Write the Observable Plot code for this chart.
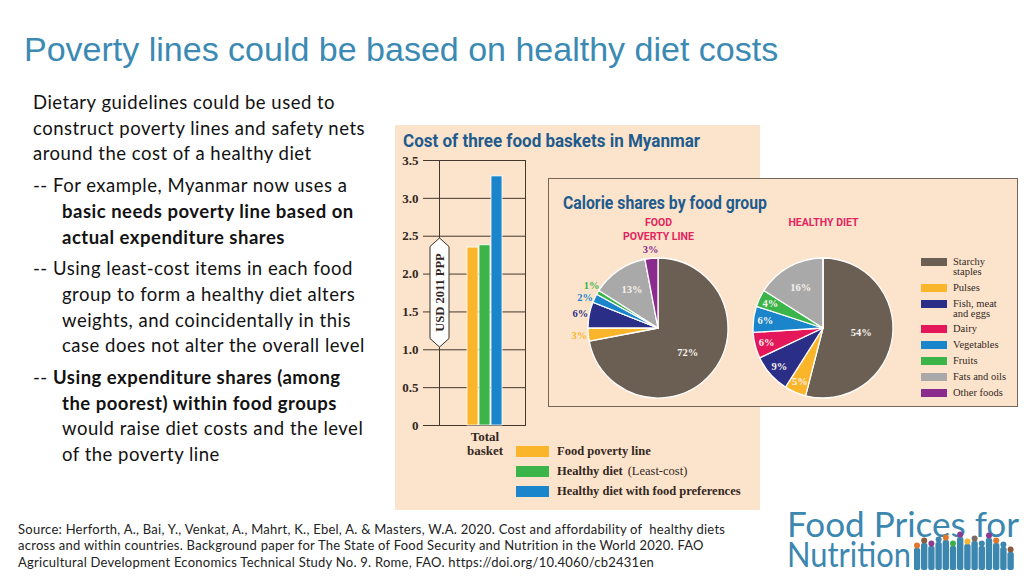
<!DOCTYPE html>
<html>
<head>
<meta charset="utf-8">
<script src="https://cdn.jsdelivr.net/npm/d3@7"></script>
<script src="https://cdn.jsdelivr.net/npm/@observablehq/plot@0.6"></script>
<style>
html, body { margin:0; padding:0; background:#fff; }
#slide { position:relative; width:1024px; height:576px; overflow:hidden; background:#fff; }
.abs { position:absolute; white-space:nowrap; }
#title { left:24px; top:32px; font:34px/1 "Liberation Sans", Arial, sans-serif; color:#3b8ab3; }
#bullets { left:33px; top:90px; font-family:Lato, sans-serif; font-size:18.5px; letter-spacing:0.5px; line-height:25.7px; color:#121212; }
#bullets p { margin:0 0 6px 0; }
#bullets p.h { padding-left:29px; text-indent:-29px; }
#figbg { left:395px; top:125px; width:365px; height:385px; background:#fce4cc; }
#panel { left:548px; top:178px; width:470px; height:229px; background:#fce4cc; border:1px solid #75665a; box-sizing:border-box; }
.ctitle { font-family: Roboto, sans-serif; font-weight:700; font-size:18px; line-height:1; color:#1f5b8c; transform-origin:0 50%; }
.serif { font-family:"Liberation Serif", "Times New Roman", serif; color:#33271e; }
#source { left:18px; top:521px; font-family:Lato, sans-serif; font-size:13px; letter-spacing:0.25px; line-height:16.4px; color:#222; }
.logo { font-family:Lato, sans-serif; font-weight:400; font-size:35px; line-height:30px; color:#3c87b0; transform-origin:0 50%; }
.leg { display:flex; align-items:center; }
.sw { display:inline-block; }
</style>
</head>
<body>
<div id="slide">
  <div id="title" class="abs">Poverty lines could be based on healthy diet costs</div>
  <div id="bullets" class="abs">
    <p>Dietary guidelines could be used to<br>construct poverty lines and safety nets<br>around the cost of a healthy diet</p>
    <p class="h">-- For example, Myanmar now uses a<br><b>basic needs poverty line based on<br>actual expenditure shares</b></p>
    <p class="h">-- Using least-cost items in each food<br>group to form a healthy diet alters<br>weights, and coincidentally in this<br>case does not alter the overall level</p>
    <p class="h">-- <b>Using expenditure shares (among<br>the poorest) within food groups</b><br>would raise diet costs and the level<br>of the poverty line</p>
  </div>
  <div id="figbg" class="abs"></div>
  <div id="panel" class="abs"></div>
  <div class="abs ctitle fit" data-w="297" style="left:403px;top:132px;">Cost of three food baskets in Myanmar</div>
  <div class="abs ctitle fit" data-w="204" style="left:563px;top:194px;">Calorie shares by food group</div>
  <div id="barHolder" class="abs" style="left:395px;top:150px;"></div>
  <div id="pieHolder" class="abs" style="left:548px;top:178px;"></div>
  <svg class="abs" style="left:429px;top:237px;" width="21" height="112">
    <polygon points="10.5,1 20,9.5 20,101.5 10.5,110 1,101.5 1,9.5" fill="#fff" stroke="#3a2e25" stroke-width="1"/>
    <text x="10.5" y="55.5" transform="rotate(-90 10.5 55.5)" text-anchor="middle" dominant-baseline="central"
      font-family="Liberation Serif, serif" font-weight="bold" font-size="12.5" fill="#33271e">USD 2011 PPP</text>
  </svg>
  <div class="abs serif" style="left:455px;top:430px;width:60px;text-align:center;font-weight:bold;font-size:13px;line-height:14px;">Total<br>basket</div>
  <div id="barLegend" class="abs serif" style="left:516px;top:441px;font-weight:bold;font-size:12.5px;"></div>
  <div id="pieLegend" class="abs serif" style="left:921px;top:257px;font-size:10.5px;line-height:10px;"></div>
  <div id="source" class="abs">Source: Herforth, A., Bai, Y., Venkat, A., Mahrt, K., Ebel, A. &amp; Masters, W.A. 2020. Cost and affordability of &nbsp;healthy diets<br>across and within countries. Background paper for The State of Food Security and Nutrition in the World 2020. FAO<br>Agricultural Development Economics Technical Study No. 9. Rome, FAO. https://doi.org/10.4060/cb2431en</div>
  <div class="abs logo fit" data-w="232" style="left:787px;top:508px;">Food Prices for</div>
  <div class="abs logo fit" data-w="124" style="left:787px;top:538px;">Nutrition</div>
  <div id="people" class="abs" style="left:914px;top:530px;"></div>
</div>
<script>
// ---------- data ----------
const barSeries = ["Food poverty line", "Healthy diet", "Healthy diet with food preferences"];
const barValues = [2.35, 2.38, 3.29];
const barColors = ["#fbb52b", "#3bb44a", "#1a85cb"];
const yTicks = [0, 0.5, 1, 1.5, 2, 2.5, 3, 3.5];

const foodGroups = ["Starchy staples", "Pulses", "Fish, meat and eggs", "Dairy", "Vegetables", "Fruits", "Fats and oils", "Other foods"];
const foodGroupLegend = ["Starchy\nstaples", "Pulses", "Fish, meat\nand eggs", "Dairy", "Vegetables", "Fruits", "Fats and oils", "Other foods"];
const groupColors = ["#6b5f54", "#fbb52b", "#2b2e86", "#e5175b", "#1a85cb", "#3bb44a", "#a9a9a9", "#8a2b8e"];
const pieNames = ["FOOD\nPOVERTY LINE", "HEALTHY DIET"];
const sharesPovertyLine = [72, 3, 6, 0, 2, 1, 13, 3];
const sharesHealthyDiet = [54, 5, 9, 6, 6, 4, 16, 0];
const pieShares = [sharesPovertyLine, sharesHealthyDiet];
const smallLabelsOutside = [true, false];

const lineColor = "#45372c";

// ---------- bar chart ----------
const barData = barSeries.map((s, i) => ({series: s, value: barValues[i]}));
const barPlot = Plot.plot({
  width: 140, height: 300,
  marginLeft: 28, marginRight: 10, marginTop: 10, marginBottom: 25,
  style: {background: "transparent", fontFamily: "Liberation Serif, serif", fontSize: "13px", fontWeight: "bold", color: "#33271e", overflow: "visible"},
  x: {type: "band", domain: barSeries, range: [71, 109], paddingInner: 0.06, paddingOuter: 0, axis: null},
  y: {domain: [0, 3.5], ticks: yTicks, tickSize: 0, tickPadding: 5, tickFormat: d => d === 0 ? "0" : d.toFixed(1), label: null},
  color: {domain: barSeries, range: barColors},
  marks: [
    Plot.ruleY(yTicks, {stroke: lineColor, strokeWidth: 1}),
    Plot.frame({insetLeft: 16, stroke: lineColor, strokeWidth: 1}),
    Plot.barY(barData, {x: "series", y: "value", fill: "series", stroke: "#fff", strokeWidth: 0.8})
  ]
});
document.getElementById("barHolder").appendChild(barPlot);

// bar legend
const bl = d3.select("#barLegend");
barSeries.forEach((s, i) => {
  const row = bl.append("div").attr("class", "leg").style("height", "20px");
  row.append("span").attr("class", "sw").style("width", "33px").style("height", "11px").style("background", barColors[i]).style("margin-right", "8px");
  if (s === "Healthy diet") {
    row.append("span").text("Healthy diet");
    row.append("span").style("font-weight", "normal").style("margin-left", "5px").text("(Least-cost)");
  } else row.append("span").text(s);
});

// ---------- pie charts ----------
function pieMark(index, scales, values, dimensions) {
  const {height, marginTop, marginBottom} = dimensions;
  const r = (height - marginTop - marginBottom) / 2;
  const cy = marginTop + r;
  const g = d3.create("svg:g");
  const minSep = 10 * Math.PI / 180;
  pieNames.forEach((name, pi) => {
    const cx = scales.x(name);
    const shares = pieShares[pi];
    const arcs = d3.pie().sort(null).value(d => d)(shares);
    const arc = d3.arc().innerRadius(0).outerRadius(r);
    const pg = g.append("g").attr("transform", `translate(${cx},${cy})`);
    pg.selectAll("path").data(arcs).join("path")
      .attr("d", arc)
      .attr("fill", (d, i) => groupColors[i])
      .attr("stroke", "#fff").attr("stroke-width", 1.3).attr("stroke-linejoin", "round");
    const labels = [];
    arcs.forEach((a, i) => {
      const v = shares[i];
      if (v === 0) return;
      const mid = (a.startAngle + a.endAngle) / 2;
      let k, fill, outside = false;
      if (v >= 50) { k = 0.55; fill = "#f7f2ec"; }
      else if (v >= 10) { k = 0.66; fill = "#f7f2ec"; }
      else if (smallLabelsOutside[pi]) { k = 1.13; fill = groupColors[i]; outside = true; }
      else { k = 0.83; fill = "#f7f2ec"; }
      labels.push({v, angle: mid, k, fill, outside});
    });
    // spread outside labels that would collide
    const outs = labels.filter(d => d.outside).sort((a, b) => a.angle - b.angle);
    for (let it = 0; it < 20; it++) {
      for (let j = 1; j < outs.length; j++) {
        const gap = outs[j].angle - outs[j - 1].angle;
        if (gap < minSep) {
          const push = (minSep - gap) / 2;
          outs[j].angle += push; outs[j - 1].angle -= push;
        }
      }
    }
    labels.forEach(d => {
      pg.append("text")
        .attr("x", Math.sin(d.angle) * r * d.k)
        .attr("y", -Math.cos(d.angle) * r * d.k)
        .attr("text-anchor", "middle")
        .attr("dominant-baseline", "central")
        .attr("font-family", "Liberation Serif, serif")
        .attr("font-weight", "bold")
        .attr("font-size", 10.5)
        .attr("fill", d.fill)
        .text(d.v + "%");
    });
  });
  return g.node();
}

const piePlot = Plot.plot({
  width: 470, height: 229,
  marginLeft: 27.5, marginRight: 112.5, marginTop: 80, marginBottom: 9,
  style: {background: "transparent", overflow: "visible"},
  x: {type: "point", domain: pieNames, padding: 0.5, axis: null},
  y: {axis: null},
  marks: [
    pieMark,
    Plot.text(pieNames, {x: d => d, frameAnchor: "top", lineAnchor: "top", dy: -42, fill: "#e2245e",
      fontWeight: "bold", fontSize: 10.5, fontFamily: "Roboto, sans-serif", lineHeight: 1.33})
  ]
});
document.getElementById("pieHolder").appendChild(piePlot);

// pie legend
const pl = d3.select("#pieLegend");
foodGroupLegend.forEach((lab, i) => {
  const row = pl.append("div").style("display", "flex").style("align-items", "flex-start").style("margin-bottom", "5.8px");
  row.append("span").style("display", "inline-block").style("width", "26px").style("height", "8px")
    .style("margin-top", "1px").style("margin-right", "6px").style("background", groupColors[i]);
  row.append("span").html(lab.replace("\n", "<br>"));
});

// people icons in logo
const peopleHeads = ["#e2762b", "#8c5b3d", "#8e3a8f", "#3c87b0", "#e2762b", "#3bae4a", "#8e3a8f", "#f2b632", "#7b6a5f", "#3c87b0", "#8e3a8f", "#e2762b", "#3c87b0", "#8c5b3d"];
const peopleTops = [14, 9, 12, 8, 6, 12, 3, 10, 7, 12, 4, 9, 13, 18];
const ps = d3.select("#people").append("svg").attr("width", 106).attr("height", 42);
peopleTops.forEach((t, i) => {
  const x = 3 + i * 7.2;
  ps.append("rect").attr("x", x - 3.2).attr("y", t + 4).attr("width", 6.4).attr("height", 40 - t - 4).attr("rx", 2).attr("fill", "#3c87b0");
  ps.append("circle").attr("cx", x).attr("cy", t + 1.5).attr("r", 3).attr("fill", peopleHeads[i]);
});

// fit some texts to the widths measured on the reference
document.querySelectorAll(".fit").forEach(el => {
  const w = el.getBoundingClientRect().width;
  el.style.transform = `scaleX(${+el.dataset.w / w})`;
});
</script>
</body>
</html>
